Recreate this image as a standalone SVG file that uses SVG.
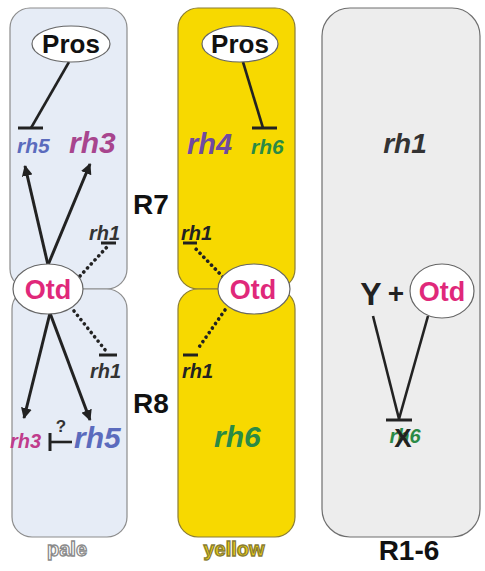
<svg xmlns="http://www.w3.org/2000/svg" width="485" height="571" viewBox="0 0 485 571">
  <style>
    .pale { fill: #e6ecf6; stroke: #8c8c8c; stroke-width: 1.2; }
    .yel { fill: #f7d900; stroke: #8a7d35; stroke-width: 1.2; }
    .grey { fill: #ededed; stroke: #6e6e6e; stroke-width: 1.2; }
    .oval { fill: #ffffff; stroke: #666666; stroke-width: 1.2; }
    .tf { font-family: "Liberation Sans", Arial, sans-serif; font-weight: bold; }
    .gene { font-family: "Liberation Sans", Arial, sans-serif; font-weight: bold; font-style: italic; }
    .otd { fill: #e0287a; font-size: 27px; }
    .pros { fill: #111111; font-size: 26px; }
    .cell { fill: #111111; font-size: 28px; }
    .act { stroke: #222222; stroke-width: 3; fill: none; marker-end: url(#arrow); }
    .inh { stroke: #222222; stroke-width: 2.6; fill: none; }
    .dot { stroke: #222222; stroke-width: 3.6; stroke-dasharray: 0.1 5.4; stroke-linecap: round; fill: none; }
    .bar { stroke: #222222; stroke-width: 3; }
  </style>
  <defs>
    <marker id="arrow" viewBox="0 0 10 10" refX="9" refY="5" markerWidth="11" markerHeight="11" markerUnits="userSpaceOnUse" orient="auto">
      <path d="M0,0 L10,5 L0,10 z" fill="#222222"/>
    </marker>
  </defs>

  <!-- cell outlines -->
  <g id="pale-R7"><rect class="pale" x="10" y="8" width="117" height="281" rx="20"/></g>
  <g id="pale-R8"><rect class="pale" x="12" y="289" width="115" height="248" rx="20"/></g>
  <g id="yellow-R7"><rect class="yel" x="178" y="8" width="117" height="281" rx="20"/></g>
  <g id="yellow-R8"><rect class="yel" x="178" y="289" width="117" height="248" rx="20"/></g>
  <g id="outer-R1-6"><rect class="grey" x="322" y="8" width="158" height="529" rx="28"/></g>

  <!-- connectors -->
  <g id="connectors">
    <!-- pale R7 -->
    <line class="inh" x1="69" y1="62" x2="31" y2="128"/>
    <line class="bar" x1="18" y1="128" x2="43" y2="128"/>
    <line class="act" x1="48" y1="265" x2="25" y2="166"/>
    <line class="act" x1="48" y1="265" x2="90" y2="164"/>
    <line class="dot" x1="80" y1="276" x2="107" y2="247"/>
    <line class="bar" x1="101" y1="243" x2="116" y2="243"/>
    <!-- pale R8 -->
    <line class="act" x1="50" y1="313" x2="24" y2="418"/>
    <line class="act" x1="50" y1="313" x2="90" y2="420"/>
    <line class="dot" x1="74" y1="311" x2="106" y2="351"/>
    <line class="bar" x1="99" y1="355" x2="117" y2="355"/>
    <line class="inh" x1="50" y1="442" x2="72" y2="442"/>
    <line class="bar" x1="50" y1="433" x2="50" y2="451"/>
    <!-- yellow R7 -->
    <line class="inh" x1="243" y1="62" x2="263" y2="128"/>
    <line class="bar" x1="252" y1="128" x2="277" y2="128"/>
    <line class="dot" x1="223" y1="277" x2="194" y2="247"/>
    <line class="bar" x1="183" y1="243" x2="197" y2="243"/>
    <!-- yellow R8 -->
    <line class="dot" x1="225" y1="310" x2="197" y2="350"/>
    <line class="bar" x1="183" y1="355" x2="198" y2="355"/>
    <!-- outer R1-6 -->
    <line class="inh" x1="373" y1="316" x2="399" y2="419"/>
    <line class="inh" x1="428" y1="316" x2="399" y2="419"/>
    <line class="bar" x1="386" y1="420" x2="412" y2="420"/>
  </g>

  <!-- pale cell -->
  <g id="pale-pros">
    <ellipse class="oval" cx="71" cy="44" rx="39" ry="18"/>
    <text class="tf pros" x="71" y="53" text-anchor="middle">Pros</text>
  </g>
  <g id="pale-otd">
    <ellipse class="oval" cx="48" cy="289" rx="35" ry="25"/>
    <text class="tf otd" x="48" y="299" text-anchor="middle">Otd</text>
  </g>
  <g id="pale-genes">
    <text class="gene" x="17" y="153" font-size="21" fill="#5b6bbd">rh5</text>
    <text class="gene" x="69" y="153" font-size="30" fill="#a8458e">rh3</text>
    <text class="gene" x="89" y="240" font-size="20" fill="#333333">rh1</text>
    <text class="gene" x="90" y="378" font-size="20" fill="#333333">rh1</text>
    <text class="gene" x="10" y="448" font-size="20" fill="#c03c8c">rh3</text>
    <text class="tf" x="61" y="432" font-size="17" fill="#333333" text-anchor="middle">?</text>
    <text class="gene" x="74" y="448" font-size="30" fill="#5b6bbd">rh5</text>
  </g>

  <!-- yellow cell -->
  <g id="yellow-pros">
    <ellipse class="oval" cx="240" cy="44" rx="38" ry="18"/>
    <text class="tf pros" x="240" y="53" text-anchor="middle">Pros</text>
  </g>
  <g id="yellow-otd">
    <ellipse class="oval" cx="254" cy="289" rx="36" ry="25"/>
    <text class="tf otd" x="253" y="299" text-anchor="middle">Otd</text>
  </g>
  <g id="yellow-genes">
    <text class="gene" x="187" y="154" font-size="29" fill="#6f4aa0">rh4</text>
    <text class="gene" x="251" y="154" font-size="21" fill="#2a8a45">rh6</text>
    <text class="gene" x="181" y="240" font-size="20" fill="#222222">rh1</text>
    <text class="gene" x="182" y="378" font-size="20" fill="#222222">rh1</text>
    <text class="gene" x="214" y="447" font-size="30" fill="#2a8a45">rh6</text>
  </g>

  <!-- outer photoreceptors -->
  <g id="outer-genes">
    <text class="gene" x="405" y="153" font-size="28" fill="#333333" text-anchor="middle">rh1</text>
    <text class="tf" x="371" y="305" font-size="32" fill="#222222" text-anchor="middle">Y</text>
    <text class="tf" x="396" y="303" font-size="28" fill="#222222" text-anchor="middle">+</text>
    <!-- X is struck over the rh6 gene name -->
    <text class="gene" x="405" y="443" font-size="20" fill="#2a8a45" text-anchor="middle">rh6</text>
    <text class="tf" x="403" y="447" font-size="26" fill="#222222" text-anchor="middle">X</text>
  </g>
  <g id="outer-otd">
    <ellipse class="oval" cx="442" cy="291" rx="32" ry="27"/>
    <text class="tf otd" x="442" y="301" text-anchor="middle">Otd</text>
  </g>

  <!-- cell labels -->
  <g id="labels">
    <text class="tf cell" x="151" y="214" text-anchor="middle">R7</text>
    <text class="tf cell" x="151" y="413" text-anchor="middle">R8</text>
    <text class="tf cell" x="409" y="560" text-anchor="middle">R1-6</text>
    <text class="tf" x="67" y="556" font-size="20" fill="#ffffff" stroke="#8a8a8a" stroke-width="1.3" text-anchor="middle">pale</text>
    <text class="tf" x="234" y="556" font-size="20" fill="#e8cd10" stroke="#8a7d35" stroke-width="1.3" text-anchor="middle">yellow</text>
  </g>
</svg>
